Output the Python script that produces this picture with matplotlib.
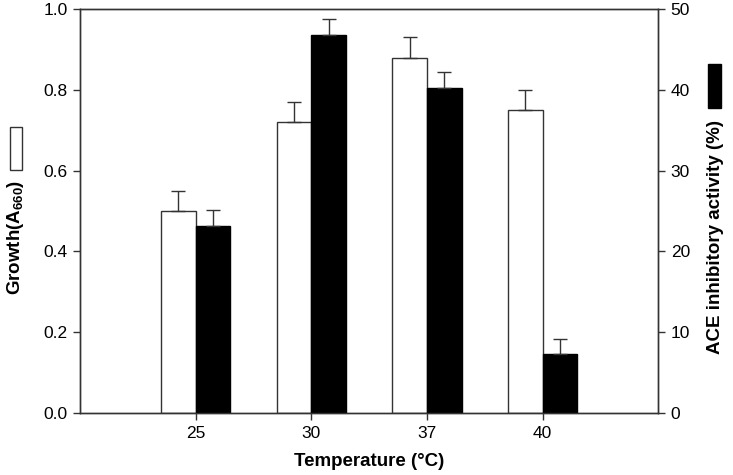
import numpy as np
import matplotlib.pyplot as plt
from matplotlib.patches import Rectangle

plt.rcParams['font.family'] = ['Liberation Sans', 'DejaVu Sans']
plt.rcParams['mathtext.fontset'] = 'custom'
plt.rcParams['mathtext.bf'] = 'Liberation Sans:bold'
plt.rcParams['mathtext.rm'] = 'Liberation Sans'

# --- Dados ---
temps = ["25", "30", "37", "40"]
growth = [0.50, 0.72, 0.88, 0.75]
growth_err = [0.05, 0.05, 0.05, 0.05]
ace = [23.1, 46.8, 40.2, 7.3]
ace_err = [2.0, 2.0, 2.0, 1.9]

x = np.arange(1, len(temps) + 1)
w = 0.3
edge = "#333333"

fig = plt.figure(figsize=(7.33, 4.75), dpi=100)
ax = fig.add_axes([0.109, 0.1305, 0.789, 0.8505])
ax2 = ax.twinx()

ekw = dict(ecolor=edge, elinewidth=1, capsize=5, capthick=1)
ax.bar(x - w / 2, growth, w, color="white", edgecolor=edge, linewidth=1,
       yerr=[np.zeros(len(x)), growth_err], error_kw=ekw)
ax2.bar(x + w / 2, ace, w, color="black", edgecolor="black", linewidth=1,
        yerr=[np.zeros(len(x)), ace_err], error_kw=ekw)

ax.set_xlim(0, 5)
ax.set_ylim(0, 1.0)
ax2.set_ylim(0, 50)
ax.set_xticks(x)
ax.set_xticklabels(temps)
ax.set_yticks(np.arange(0, 1.01, 0.2))
ax.set_yticklabels([f"{v:.1f}" for v in np.arange(0, 1.01, 0.2)])
ax2.set_yticks(np.arange(0, 51, 10))

for a in (ax, ax2):
    a.tick_params(direction="out", length=5, width=1, color=edge,
                  labelsize=12.5, pad=4)
    for s in a.spines.values():
        s.set_color(edge)
        s.set_linewidth(1)

ax.set_xlabel("Temperature (°C)", fontsize=13.5, fontweight="bold", labelpad=9)

# rótulos dos eixos y com a amostra da cor
fig.text(0.021, 0.50, r"Growth(A$\mathbf{_{660}}$)", rotation=90, ha="center",
         va="center", fontsize=13.5, fontweight="bold")
fig.text(0.976, 0.50, "ACE inhibitory activity (%)", rotation=90, ha="center",
         va="center", fontsize=13.5, fontweight="bold")
fig.patches.append(Rectangle((0.0136, 0.642), 0.0165, 0.091, transform=fig.transFigure,
                             facecolor="white", edgecolor=edge, linewidth=1))
fig.patches.append(Rectangle((0.966, 0.773), 0.0177, 0.093, transform=fig.transFigure,
                             facecolor="black", edgecolor="black", linewidth=1))

fig.savefig("out.png", dpi=100)
